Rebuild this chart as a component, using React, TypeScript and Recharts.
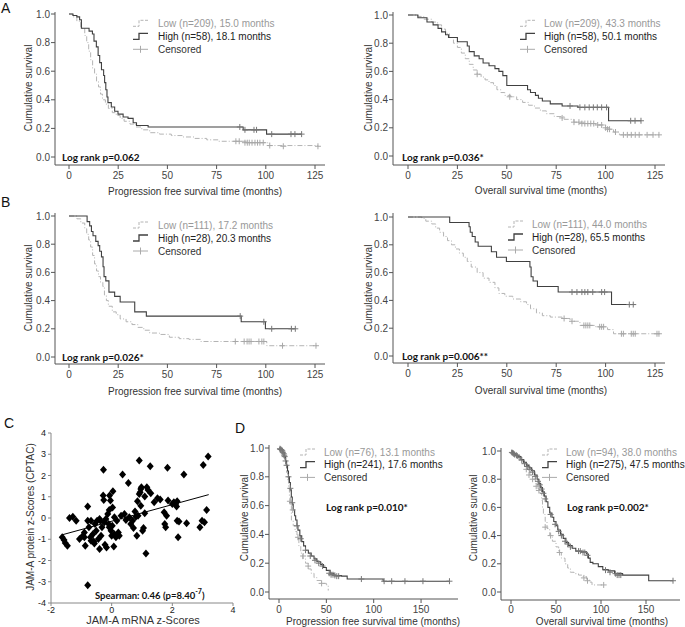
import React from 'react';
import { ComposedChart, Line, Scatter, XAxis, YAxis } from 'recharts';

type Pt = [number, number];

// ---- KM curves: [months, cumulative survival]
const aPfsLow: Pt[] = [[0, 1], [2, 0.98], [4, 0.95], [6, 0.9], [8, 0.85], [9, 0.8], [10, 0.74], [11, 0.68], [12, 0.62], [13, 0.58], [14, 0.53], [15, 0.49], [16, 0.44], [17, 0.4], [18.5, 0.37], [20, 0.34], [22, 0.31], [24, 0.29], [26, 0.27], [28, 0.25], [31, 0.23], [34, 0.21], [37, 0.19], [41, 0.17], [46, 0.16], [52, 0.15], [58, 0.14], [64, 0.13], [70, 0.12], [76, 0.11], [91, 0.1], [101, 0.08], [126.5, 0.075]];
const aPfsHigh: Pt[] = [[0, 1], [2, 0.99], [4, 0.98], [5.4, 0.96], [6.3, 0.9], [10.2, 0.88], [11.9, 0.86], [12.7, 0.81], [13.9, 0.77], [14.8, 0.71], [15.6, 0.66], [16.5, 0.61], [17.6, 0.57], [18.1, 0.52], [18.7, 0.47], [19.3, 0.42], [19.8, 0.38], [21.5, 0.35], [23.2, 0.32], [24.9, 0.3], [27.5, 0.28], [30, 0.27], [32.6, 0.24], [34.3, 0.22], [40.2, 0.21], [88.5, 0.19], [100.4, 0.16], [118.2, 0.16]];
const aPfsLowCens: Pt[] = [[84.8, 0.11], [86.5, 0.11], [89.4, 0.1], [90.6, 0.1], [91.6, 0.1], [93, 0.1], [94.5, 0.1], [95.8, 0.1], [97, 0.1], [98.7, 0.1], [102, 0.08], [108.9, 0.075], [126.5, 0.075]];
const aPfsHighCens: Pt[] = [[86.8, 0.21], [89.4, 0.19], [94, 0.19], [95.3, 0.19], [103, 0.16], [112.8, 0.16], [114.8, 0.16], [118.2, 0.16]];

const aOsLow: Pt[] = [[0, 1], [5, 0.99], [8, 0.97], [12, 0.95], [15, 0.93], [17, 0.9], [19, 0.87], [21, 0.84], [23, 0.8], [25, 0.77], [27, 0.73], [29, 0.69], [31, 0.65], [33, 0.61], [35, 0.58], [37, 0.56], [39, 0.54], [41, 0.52], [43.3, 0.5], [45, 0.47], [47, 0.45], [49, 0.43], [52, 0.42], [55, 0.4], [58, 0.38], [61, 0.36], [64, 0.34], [67, 0.32], [70, 0.3], [74, 0.28], [79, 0.26], [84, 0.24], [89, 0.23], [95, 0.22], [100, 0.2], [102, 0.19], [104, 0.17], [107, 0.15], [127, 0.15]];
const aOsHigh: Pt[] = [[0, 1], [5, 0.98], [9.6, 0.95], [12.7, 0.93], [15.2, 0.905], [17, 0.88], [19, 0.86], [20.5, 0.84], [25, 0.81], [30, 0.78], [31, 0.74], [33.5, 0.71], [36, 0.69], [38, 0.66], [41, 0.64], [44, 0.62], [46, 0.6], [48, 0.57], [50, 0.5], [60.5, 0.47], [62, 0.45], [64.5, 0.43], [66, 0.41], [68, 0.39], [72, 0.37], [78, 0.355], [86, 0.345], [101.5, 0.25], [118, 0.25]];
const aOsLowCens: Pt[] = [[35, 0.58], [51.5, 0.42], [78, 0.27], [84, 0.24], [86.5, 0.24], [88, 0.23], [89.5, 0.23], [91, 0.23], [92.5, 0.23], [94, 0.23], [96, 0.22], [98, 0.22], [100, 0.2], [101, 0.19], [102, 0.19], [105, 0.17], [109, 0.15], [111, 0.15], [113, 0.15], [115, 0.15], [117, 0.15], [121, 0.15], [124, 0.15], [127, 0.15]];
const aOsHighCens: Pt[] = [[82, 0.355], [87, 0.345], [89.5, 0.345], [91.7, 0.345], [93.8, 0.345], [95.8, 0.345], [98, 0.345], [100.5, 0.345], [112.7, 0.25], [114.9, 0.25], [117.9, 0.25]];

const bPfsLow: Pt[] = [[0, 1], [4, 0.98], [6, 0.95], [8, 0.91], [9, 0.87], [10, 0.83], [11, 0.78], [12, 0.72], [13, 0.66], [14, 0.61], [15, 0.57], [16, 0.53], [17.2, 0.5], [18, 0.44], [19, 0.4], [20, 0.36], [22, 0.32], [24, 0.3], [26, 0.27], [29, 0.25], [32, 0.23], [35, 0.21], [38, 0.19], [41, 0.17], [46, 0.16], [51, 0.14], [56, 0.13], [61, 0.125], [67, 0.11], [100.5, 0.08], [126, 0.08]];
const bPfsHigh: Pt[] = [[0, 1], [9.2, 0.96], [10.5, 0.93], [11.4, 0.89], [12.2, 0.86], [13.6, 0.82], [14.8, 0.79], [15.6, 0.75], [16.5, 0.71], [17.3, 0.64], [17.8, 0.57], [18.7, 0.54], [20.3, 0.46], [23.2, 0.43], [26, 0.39], [33.4, 0.32], [39.3, 0.29], [87.5, 0.25], [99.8, 0.2], [115, 0.2]];
const bPfsLowCens: Pt[] = [[84.5, 0.11], [89, 0.11], [90.5, 0.11], [91.5, 0.11], [92.5, 0.11], [96.5, 0.11], [98, 0.11], [99, 0.11], [108.5, 0.08], [125.5, 0.08]];
const bPfsHighCens: Pt[] = [[87, 0.29], [99, 0.25], [103, 0.2], [113, 0.2], [115, 0.2]];

const bOsLow: Pt[] = [[0, 1], [7, 0.99], [9, 0.97], [12, 0.95], [14, 0.92], [16, 0.89], [18, 0.86], [20, 0.83], [22, 0.8], [24, 0.77], [26, 0.74], [28, 0.71], [30, 0.68], [32, 0.64], [35, 0.6], [38, 0.56], [41, 0.53], [44, 0.49], [46, 0.45], [49, 0.43], [53, 0.41], [57, 0.39], [60, 0.37], [62, 0.34], [65, 0.31], [68, 0.29], [72, 0.28], [78, 0.27], [82, 0.25], [87, 0.22], [95, 0.21], [101, 0.19], [104, 0.16], [127, 0.16]];
const bOsHigh: Pt[] = [[0, 1], [21.1, 0.96], [30.9, 0.93], [31.5, 0.89], [32.5, 0.86], [34, 0.82], [35.5, 0.79], [42.2, 0.75], [44.8, 0.71], [49.8, 0.68], [61.7, 0.64], [62.3, 0.57], [63.3, 0.54], [65.5, 0.5], [76, 0.46], [103, 0.37], [115, 0.37]];
const bOsLowCens: Pt[] = [[79, 0.27], [83, 0.25], [89, 0.22], [90, 0.22], [91, 0.22], [92, 0.22], [97, 0.21], [98, 0.21], [99, 0.21], [108, 0.16], [109, 0.16], [113, 0.16], [114, 0.16], [115, 0.16], [126, 0.16], [127, 0.16]];
const bOsHighCens: Pt[] = [[83, 0.46], [85.5, 0.46], [88, 0.46], [89.5, 0.46], [91, 0.46], [93.5, 0.46], [98, 0.46], [99.5, 0.46], [112, 0.37], [114, 0.37]];

const dPfsLow: Pt[] = [[0, 1], [3, 0.97], [5, 0.93], [7, 0.88], [8, 0.83], [9, 0.78], [10, 0.72], [11, 0.66], [12, 0.6], [13.1, 0.5], [15, 0.46], [17, 0.42], [19, 0.37], [21, 0.32], [23, 0.27], [25, 0.23], [28, 0.2], [31, 0.16], [34, 0.13], [37, 0.1], [40, 0.08], [45, 0.06], [50, 0.05], [52, 0.01]];
const dPfsHigh: Pt[] = [[0, 1], [2, 0.99], [4, 0.97], [6, 0.94], [7, 0.91], [8, 0.88], [9, 0.84], [10, 0.8], [11, 0.76], [12, 0.71], [13, 0.66], [14, 0.61], [15, 0.57], [16.5, 0.53], [17.6, 0.5], [19, 0.46], [20, 0.43], [22, 0.39], [24, 0.35], [26, 0.32], [28, 0.29], [31, 0.27], [34, 0.25], [37, 0.23], [40, 0.21], [44, 0.19], [47, 0.17], [50, 0.15], [54, 0.13], [58, 0.115], [66, 0.11], [72, 0.09], [110, 0.075], [180, 0.075]];
const dPfsLowCens: Pt[] = [[11.5, 0.63], [14.5, 0.57], [20, 0.38], [25.5, 0.25], [30.8, 0.18], [45, 0.06]];
const dPfsHighCens: Pt[] = [[1, 0.995], [1.5, 0.99], [2, 0.99], [3, 0.985], [3.5, 0.98], [4, 0.97], [5, 0.96], [5.5, 0.95], [6, 0.94], [7, 0.91], [8, 0.88], [10, 0.8], [12, 0.72], [14, 0.62], [19, 0.46], [23, 0.37], [28, 0.29], [33, 0.25], [38, 0.22], [42, 0.2], [46, 0.18], [53, 0.13], [55, 0.12], [57, 0.12], [59, 0.115], [61, 0.11], [63, 0.11], [87, 0.09], [111, 0.075], [119, 0.075], [133, 0.075], [152, 0.075], [180, 0.075]];

const dOsLow: Pt[] = [[0, 1], [3, 0.98], [6, 0.96], [10, 0.93], [14, 0.9], [18, 0.86], [21, 0.83], [24, 0.8], [27, 0.77], [30, 0.73], [32, 0.7], [34, 0.65], [35, 0.6], [36, 0.55], [38, 0.5], [40, 0.45], [43, 0.4], [46, 0.36], [50, 0.32], [53, 0.28], [56, 0.24], [60, 0.2], [63, 0.17], [66, 0.14], [70, 0.13], [75, 0.12], [80, 0.11], [84, 0.09], [87, 0.07], [90, 0.05], [103, 0.05]];
const dOsHigh: Pt[] = [[0, 1], [2, 0.98], [5, 0.97], [8, 0.96], [11, 0.94], [14, 0.92], [17, 0.9], [20, 0.88], [23, 0.86], [26, 0.83], [29, 0.8], [31, 0.77], [33, 0.74], [35, 0.71], [37, 0.68], [39, 0.64], [41, 0.6], [43, 0.56], [45.5, 0.53], [47.5, 0.5], [50, 0.47], [52, 0.44], [55, 0.41], [58, 0.38], [61, 0.35], [64, 0.33], [68, 0.31], [72, 0.29], [78, 0.285], [84, 0.27], [86, 0.24], [88, 0.21], [91, 0.2], [97, 0.18], [102, 0.16], [108, 0.15], [115, 0.13], [124, 0.12], [153, 0.08], [180, 0.08]];
const dOsLowCens: Pt[] = [[17, 0.87], [20, 0.83], [24, 0.8], [28, 0.75], [31, 0.72], [38, 0.46], [44, 0.4], [54, 0.28], [81, 0.1], [85, 0.08], [103, 0.05]];
const dOsHighCens: Pt[] = [[1, 0.99], [2, 0.985], [3, 0.98], [4, 0.975], [6, 0.97], [7, 0.965], [9, 0.955], [12, 0.935], [15, 0.91], [18, 0.89], [21, 0.87], [24, 0.85], [27, 0.82], [30, 0.785], [32, 0.76], [34, 0.73], [36, 0.7], [38, 0.66], [44, 0.55], [49, 0.48], [53, 0.43], [56, 0.4], [60, 0.36], [63, 0.34], [66, 0.32], [75, 0.29], [77, 0.29], [80, 0.28], [82, 0.28], [85, 0.26], [105, 0.155], [110, 0.14], [116, 0.13], [118, 0.12], [120, 0.12], [122, 0.12], [180, 0.08]];

// ---- C: JAM-A mRNA vs protein z-scores
const cPoints: Pt[] = [[-1.63, -0.91], [-1.57, -1.04], [-1.53, -1.18], [-1.46, -1.31], [-1.39, 0], [-1.28, 0.06], [-1.17, -0.13], [-1.06, -0.99], [-0.95, -0.83], [-0.9, -0.68], [-0.87, -1.31], [-0.79, 0.54], [-0.79, -0.13], [-0.75, -0.44], [-0.7, -0.91], [-0.68, -1.07], [-0.62, -0.76], [-0.59, -1.1], [-0.55, -0.28], [-0.51, -0.6], [-0.48, -0.13], [-0.44, -0.99], [-0.4, -1.46], [-0.37, -0.13], [-0.35, -0.83], [-0.32, -0.44], [-0.28, 1.06], [-0.27, 2.27], [-0.26, 0.85], [-0.22, -1.26], [-0.19, -0.05], [-0.17, -1.39], [-0.13, 0.19], [-0.1, -0.28], [-0.08, 0.38], [-0.07, 1.06], [-0.04, 0.82], [-0.02, -0.6], [0, -0.83], [0.02, -0.36], [0.04, 1.26], [0.07, -1.34], [0.09, 0.03], [0.14, -0.91], [0.17, -0.13], [0.22, -0.68], [0.25, -0.83], [0.31, 0.11], [0.36, 2.05], [0.42, 0.19], [0.47, -0.09], [0.55, 1.65], [0.58, 0.03], [0.63, -0.28], [0.69, -0.13], [0.72, -0.47], [0.77, 0.31], [0.8, 0.06], [0.83, -0.83], [0.85, 0.79], [0.87, 0.11], [0.91, 2.71], [0.91, 1.13], [0.94, 1.21], [0.96, 1.37], [0.98, 1.45], [1.02, -0.6], [1.05, -0.47], [1.09, 0.22], [1.13, -1.67], [1.09, 1.01], [1.16, 1.45], [1.2, 1.32], [1.27, 2.43], [1.29, 1.17], [1.4, 0.74], [1.51, 0.93], [1.6, 0.87], [1.73, 0.27], [1.75, -0.28], [1.78, -0.44], [1.81, 0.11], [1.84, 2.36], [1.86, 0.82], [2.05, 0.74], [2.11, 0.66], [2.14, 0.54], [2.16, 0.79], [2.19, -0.91], [2.16, -0.13], [2.22, -0.16], [2.38, 2.05], [2.47, -0.25], [2.91, -0.44], [2.98, -0.13], [3.06, -0.2], [3.02, 2.5], [3.13, 0.38], [3.18, 2.9], [-0.79, -3.17], [-0.68, -0.13], [-0.4, -0.05], [-0.24, -0.2], [0.03, 0.5], [-0.08, -0.44], [0.09, -0.76], [-0.9, -0.91], [-0.57, -1.2], [0.96, 0.58], [2.0, 0.66]];
const cFit: Pt[] = [[-1.63, -0.79], [3.2, 1.1]];

const kmXTicks = [0, 25, 50, 75, 100, 125];
const dXTicks = [0, 50, 100, 150];
const kmYTicks = [0, 0.2, 0.4, 0.6, 0.8, 1.0];
const cXTicks = [-2, 0, 2, 4];
const cYTicks = [-4, -3, -2, -1, 0, 1, 2, 3, 4];

const legendA1 = ['Low (n=209), 15.0 months', 'High (n=58), 18.1 months', 'Censored'];
const legendA2 = ['Low (n=209), 43.3 months', 'High (n=58), 50.1 months', 'Censored'];
const legendB1 = ['Low (n=111), 17.2 months', 'High (n=28), 20.3 months', 'Censored'];
const legendB2 = ['Low (n=111), 44.0 months', 'High (n=28), 65.5 months', 'Censored'];
const legendD1 = ['Low (n=76), 13.1 months', 'High (n=241), 17.6 months', 'Censored'];
const legendD2 = ['Low (n=94), 38.0 months', 'High (n=275), 47.5 months', 'Censored'];

const FONT = "'Liberation Sans', Arial, sans-serif";
const BOLD = "Lato, 'Open Sans', sans-serif";
const LOW = '#b4b4b4';
const HIGH = '#404040';

const rows = (pts: Pt[]) => pts.map(([t, s]) => ({ t, s }));

const cross = (color: string) => (p: any) => (
  <path d={`M${p.cx - 3},${p.cy}h6M${p.cx},${p.cy - 3}v6`} stroke={color} strokeWidth={1} fill="none" />
);

const diamond = (p: any) => (
  <path d={`M${p.cx},${p.cy - 4}L${p.cx + 3.5},${p.cy}L${p.cx},${p.cy + 4}L${p.cx - 3.5},${p.cy}Z`} fill="#000" />
);

function KMChart({ g, low, high, lowCens, highCens, xTicks }: any) {
  const W = g.x1 - g.x0 + 46;
  const H = g.y1 - g.y0 + 30;
  const xDom = [(g.x0 - g.zeroX) / g.pxX, (g.x1 - g.zeroX) / g.pxX];
  const pxY = g.zeroY - g.oneY;
  const yDom = [(g.zeroY - g.y1) / pxY, (g.zeroY - g.y0) / pxY];
  const tick = { fontSize: 10, fill: '#444', fontFamily: FONT };
  return (
    <div style={{ position: 'absolute', left: g.x0 - 40, top: g.y0 - 4 }}>
      <ComposedChart width={W} height={H} margin={{ top: 4, right: 6, left: 0, bottom: 0 }}>
        <XAxis type="number" dataKey="t" domain={xDom} allowDataOverflow ticks={xTicks} interval={0}
          height={26} tickSize={4} tickMargin={g.tm} axisLine={{ stroke: '#555' }} tickLine={{ stroke: '#555' }} tick={tick} />
        <YAxis type="number" domain={yDom} allowDataOverflow ticks={kmYTicks} interval={0} width={40}
          tickSize={4} tickMargin={1} axisLine={{ stroke: '#555' }} tickLine={{ stroke: '#555' }} tick={tick}
          tickFormatter={(v: number) => v.toFixed(1)} />
        <Line data={rows(low)} dataKey="s" type="stepAfter" stroke={LOW} strokeWidth={1} strokeDasharray="5 2 1 2"
          dot={false} activeDot={false} isAnimationActive={false} />
        <Line data={rows(high)} dataKey="s" type="stepAfter" stroke={HIGH} strokeWidth={1.1}
          dot={false} activeDot={false} isAnimationActive={false} />
        <Scatter data={rows(lowCens)} dataKey="s" shape={cross('#a8a8a8')} isAnimationActive={false} />
        <Scatter data={rows(highCens)} dataKey="s" shape={cross('#777')} isAnimationActive={false} />
      </ComposedChart>
    </div>
  );
}

function ScatterPanel() {
  // plot rect: x -2..4 -> 51..233, y -4..4 -> 603..433
  const tick = { fontSize: 9, fill: '#222', fontFamily: FONT };
  const pts = cPoints.map(([x, y]) => ({ x, y }));
  const fit = cFit.map(([x, y]) => ({ x, y }));
  return (
    <div style={{ position: 'absolute', left: 51 - 30, top: 433 - 4 }}>
      <ComposedChart width={233 - 51 + 36} height={603 - 433 + 24} margin={{ top: 4, right: 6, left: 0, bottom: 0 }}>
        <XAxis type="number" dataKey="x" domain={[-2, 4]} allowDataOverflow ticks={cXTicks} interval={0} height={20}
          tickSize={3} tickMargin={1} axisLine={{ stroke: '#888' }} tickLine={{ stroke: '#888' }} tick={tick} />
        <YAxis type="number" domain={[-4, 4]} allowDataOverflow ticks={cYTicks} interval={0} width={30}
          tickSize={3} tickMargin={2} axisLine={{ stroke: '#888' }} tickLine={{ stroke: '#888' }} tick={tick} />
        <Scatter data={pts} dataKey="y" shape={diamond} isAnimationActive={false} />
        <Line data={fit} dataKey="y" type="linear" stroke="#000" strokeWidth={1} dot={false} activeDot={false} isAnimationActive={false} />
      </ComposedChart>
    </div>
  );
}

function LegendBlock({ sx, tx, y, gap, labels }: any) {
  const w = 15;
  return (
    <g>
      <path d={`M${sx},${y + 3} H${sx + 6} V${y - 3} H${sx + w}`} stroke={LOW} fill="none" strokeDasharray="3 1.5" />
      <path d={`M${sx},${y + gap + 3} H${sx + 6} V${y + gap - 3} H${sx + w}`} stroke={HIGH} fill="none" strokeWidth={1.3} />
      <path d={`M${sx},${y + 2 * gap} H${sx + w} M${sx + w / 2},${y + 2 * gap - 3.5} v7`} stroke="#aaa" fill="none" />
      <text x={tx} y={y} dominantBaseline="central" fill="#999" fontSize={10} fontFamily={FONT}>{labels[0]}</text>
      <text x={tx} y={y + gap} dominantBaseline="central" fill="#222" fontSize={10} fontFamily={FONT}>{labels[1]}</text>
      <text x={tx} y={y + 2 * gap} dominantBaseline="central" fill="#333" fontSize={10} fontFamily={FONT}>{labels[2]}</text>
    </g>
  );
}

const gA1 = { x0: 55, x1: 325, y0: 12, y1: 165, zeroX: 69, pxX: 1.968, oneY: 14, zeroY: 157, tm: 3 };
const gA2 = { x0: 393, x1: 665, y0: 12, y1: 165, zeroX: 408, pxX: 1.976, oneY: 15, zeroY: 156, tm: 3 };
const gB1 = { x0: 55, x1: 325, y0: 213, y1: 364, zeroX: 69, pxX: 1.968, oneY: 216, zeroY: 357, tm: 3 };
const gB2 = { x0: 393, x1: 665, y0: 213, y1: 363, zeroX: 408, pxX: 1.976, oneY: 217, zeroY: 356, tm: 3 };
const gD1 = { x0: 269, x1: 458, y0: 445, y1: 599, zeroX: 279, pxX: 0.947, oneY: 448, zeroY: 592, tm: 2.5 };
const gD2 = { x0: 501, x1: 680, y0: 448, y1: 600, zeroX: 511, pxX: 0.9, oneY: 451, zeroY: 592, tm: 2 };

function Txt({ x, y, children, size = 10, anchor = 'middle', rotate = false, bold = false, fill = '#333' }: any) {
  return (
    <text x={rotate ? 0 : x} y={rotate ? 0 : y} transform={rotate ? `translate(${x},${y}) rotate(-90)` : undefined}
      textAnchor={anchor} dominantBaseline="central" fontSize={size} fill={fill}
      fontFamily={bold ? BOLD : FONT} fontWeight={bold ? 700 : 400}>{children}</text>
  );
}

export default function App() {
  return (
    <div style={{ position: 'absolute', left: 0, top: 0, width: 685, height: 627, background: '#fff', overflow: 'hidden' }}>
      <KMChart g={gA1} low={aPfsLow} high={aPfsHigh} lowCens={aPfsLowCens} highCens={aPfsHighCens} xTicks={kmXTicks} />
      <KMChart g={gA2} low={aOsLow} high={aOsHigh} lowCens={aOsLowCens} highCens={aOsHighCens} xTicks={kmXTicks} />
      <KMChart g={gB1} low={bPfsLow} high={bPfsHigh} lowCens={bPfsLowCens} highCens={bPfsHighCens} xTicks={kmXTicks} />
      <KMChart g={gB2} low={bOsLow} high={bOsHigh} lowCens={bOsLowCens} highCens={bOsHighCens} xTicks={kmXTicks} />
      <KMChart g={gD1} low={dPfsLow} high={dPfsHigh} lowCens={dPfsLowCens} highCens={dPfsHighCens} xTicks={dXTicks} />
      <KMChart g={gD2} low={dOsLow} high={dOsHigh} lowCens={dOsLowCens} highCens={dOsHighCens} xTicks={dXTicks} />
      <ScatterPanel />
      <svg width={685} height={627} style={{ position: 'absolute', left: 0, top: 0, pointerEvents: 'none' }}>
        <Txt x={1} y={8} size={14} anchor="start" fill="#111">A</Txt>
        <Txt x={1} y={202} size={14} anchor="start" fill="#111">B</Txt>
        <Txt x={4} y={423} size={14} anchor="start" fill="#111">C</Txt>
        <Txt x={235} y={428} size={14} anchor="start" fill="#111">D</Txt>

        <Txt x={28} y={88} rotate>Cumulative survival</Txt>
        <Txt x={368} y={88} rotate>Cumulative survival</Txt>
        <Txt x={28} y={288} rotate>Cumulative survival</Txt>
        <Txt x={368} y={288} rotate>Cumulative survival</Txt>
        <Txt x={244} y={518} rotate>Cumulative survival</Txt>
        <Txt x={473} y={518} rotate>Cumulative survival</Txt>

        <Txt x={195} y={191}>Progression free survival time (months)</Txt>
        <Txt x={541} y={190}>Overall survival time (months)</Txt>
        <Txt x={195} y={391}>Progression free survival time (months)</Txt>
        <Txt x={541} y={390}>Overall survival time (months)</Txt>
        <Txt x={373} y={621.5}>Progression free survival time (months)</Txt>
        <Txt x={602} y={621.5}>Overall survival time (months)</Txt>

        <LegendBlock sx={133} tx={158} y={23.3} gap={13} labels={legendA1} />
        <LegendBlock sx={520} tx={544} y={23.3} gap={13} labels={legendA2} />
        <LegendBlock sx={133} tx={158} y={225} gap={13} labels={legendB1} />
        <LegendBlock sx={508} tx={532} y={224} gap={13} labels={legendB2} />
        <LegendBlock sx={300} tx={324} y={452} gap={12.7} labels={legendD1} />
        <LegendBlock sx={542} tx={566} y={452} gap={12.7} labels={legendD2} />

        <Txt x={62} y={157} anchor="start" bold fill="#111">Log rank p=0.062</Txt>
        <Txt x={402} y={157} anchor="start" bold fill="#111">Log rank p=0.036*</Txt>
        <Txt x={62} y={357} anchor="start" bold fill="#111">Log rank p=0.026*</Txt>
        <Txt x={402} y={356} anchor="start" bold fill="#111">Log rank p=0.006**</Txt>
        <Txt x={326} y={507} anchor="start" bold fill="#111">Log rank p=0.010*</Txt>
        <Txt x={567} y={507} anchor="start" bold fill="#111">Log rank p=0.002*</Txt>

        <Txt x={30} y={517} rotate>JAM-A protein z-Scores (CPTAC)</Txt>
        <Txt x={143} y={620} size={11}>JAM-A mRNA z-Scores</Txt>
        <text x={95} y={595} dominantBaseline="central" fontSize={9.5} fontFamily={BOLD} fontWeight={700} fill="#111">
          Spearman: 0.46 (p=8.40<tspan dy={-4} fontSize={7}>-7</tspan><tspan dy={4}>)</tspan>
        </text>
      </svg>
    </div>
  );
}
